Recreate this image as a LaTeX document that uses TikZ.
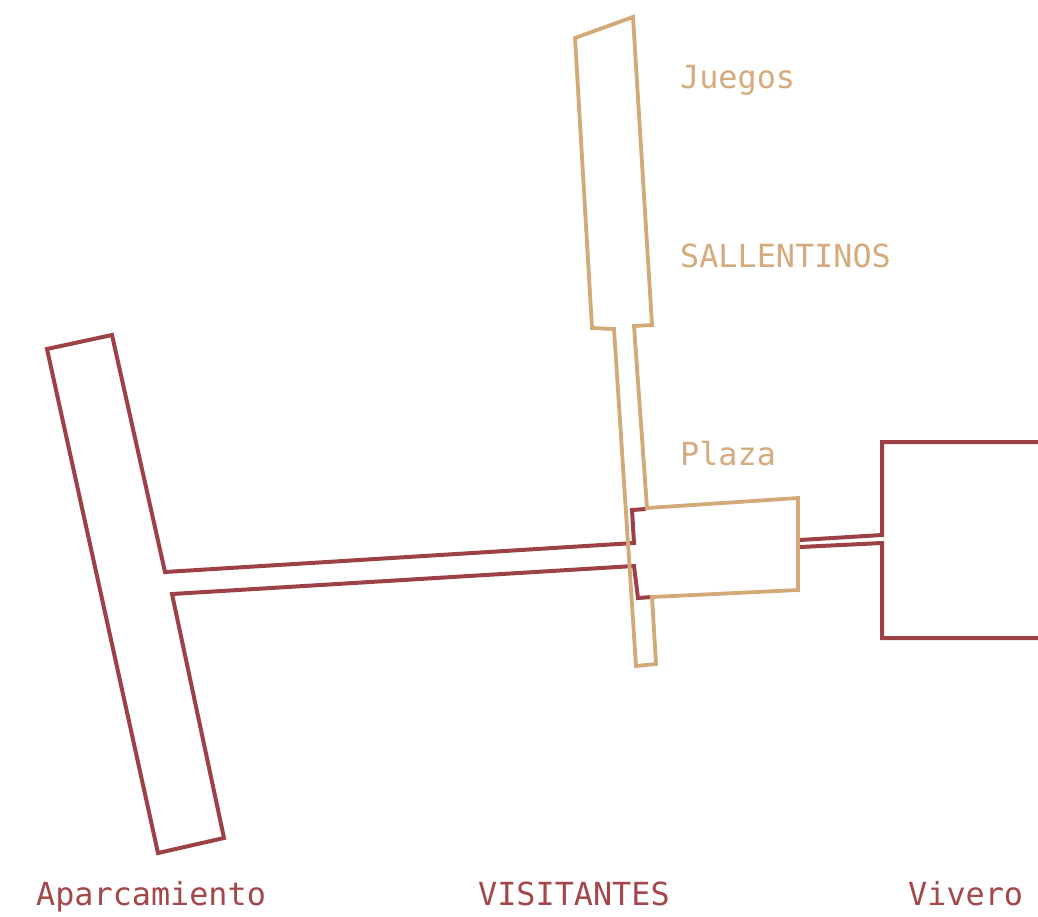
\documentclass[tikz,border=0pt]{standalone}
\usepackage{fontspec}
\newfontfamily\labelfont{DejaVu Sans Mono}
\definecolor{wallred}{HTML}{9C4247}
\definecolor{walltan}{HTML}{D2A977}
\definecolor{txtred}{HTML}{A3474B}
\definecolor{txttan}{HTML}{D5AA7C}
\tikzset{
  redwall/.style={draw=wallred, line width=4pt, line join=miter},
  tanwall/.style={draw=walltan, line width=3.8pt, line join=miter},
  lbl/.style={anchor=base west, inner sep=0pt, font=\labelfont\fontsize{31.8}{36}\selectfont},
  redlbl/.style={lbl, text=txtred},
  tanlbl/.style={lbl, text=txttan}
}
\begin{document}
\begin{tikzpicture}[x=1pt,y=-1pt]
\useasboundingbox (0,0) rectangle (1038,916);
% parking + road to the plaza
\draw[redwall] (646,509) -- (632,510) -- (634,543) -- (165,572) -- (112,335) -- (47,349)
  -- (158,853) -- (224,838) -- (172,594) -- (634,566) -- (638,598) -- (652,597);
% road to the nursery and nursery
\draw[redwall] (800,540) -- (882,535) -- (882,442) -- (1042,442);
\draw[redwall] (800,547) -- (882,543) -- (882,638) -- (1042,638);
% games strip and plaza
\draw[tanwall] (798,590) -- (652,597) -- (656,664) -- (636,666) -- (614,329) -- (592,328)
  -- (575,38) -- (633,17) -- (652,325) -- (634,326) -- (647,508) -- (798,498) -- cycle;
% labels
\node[tanlbl] (juegos) at (680,88) {Juegos};
\node[tanlbl] (sallentinos) at (680,267) {SALLENTINOS};
\node[tanlbl] (plaza) at (680,465) {Plaza};
\node[redlbl] (aparcamiento) at (36,905) {Aparcamiento};
\node[redlbl] (visitantes) at (478,905) {VISITANTES};
\node[redlbl] (vivero) at (908,905) {Vivero};
\end{tikzpicture}
\end{document}
